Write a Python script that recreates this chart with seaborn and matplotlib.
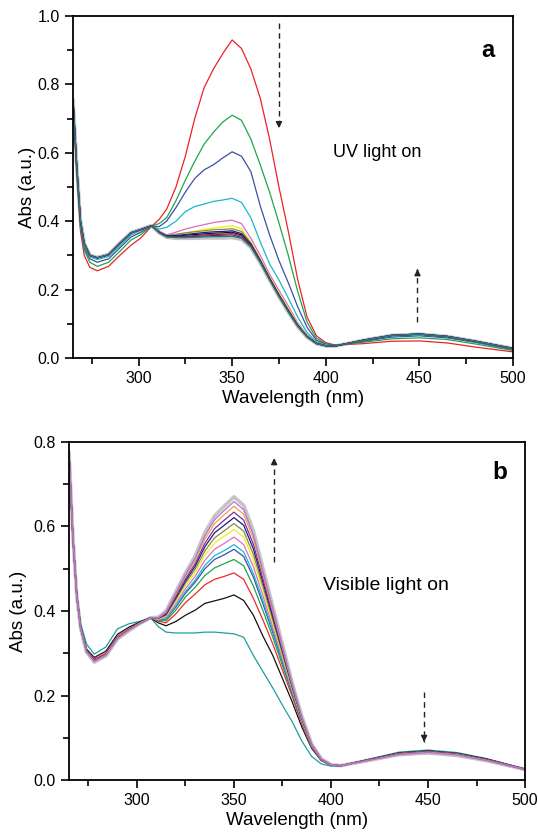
import pandas as pd
import matplotlib.pyplot as plt
from matplotlib.ticker import MultipleLocator
import seaborn as sns

wavelength = [265, 267, 269, 271, 274, 278, 284, 290, 296, 301, 307,
              311, 315, 320, 325, 330, 335, 340, 345, 350, 355, 360, 365, 370, 375, 380, 385, 390, 395, 400,
              405, 420, 435, 450, 465, 480, 500]

# ---- panel a: UV light on ----
a_red = [0.74, 0.54, 0.37, 0.30, 0.265, 0.255, 0.268, 0.30, 0.33, 0.35, 0.385,
         0.405, 0.435, 0.50, 0.59, 0.70, 0.79, 0.845, 0.89, 0.93, 0.905, 0.845, 0.76, 0.64, 0.50, 0.37, 0.23, 0.12, 0.065, 0.045,
         0.038, 0.042, 0.049, 0.05, 0.044, 0.032, 0.018]
a_green = [0.745, 0.548, 0.383, 0.315, 0.28, 0.268, 0.28, 0.312, 0.345, 0.36, 0.386,
           0.393, 0.41, 0.46, 0.52, 0.575, 0.625, 0.66, 0.69, 0.71, 0.695, 0.64, 0.565, 0.485, 0.395, 0.30, 0.195, 0.105, 0.058, 0.042,
           0.037, 0.046, 0.056, 0.059, 0.054, 0.041, 0.022]
a_blue = [0.75, 0.55, 0.388, 0.322, 0.29, 0.28, 0.29, 0.322, 0.354, 0.367, 0.386,
          0.384, 0.40, 0.44, 0.485, 0.525, 0.55, 0.565, 0.585, 0.603, 0.59, 0.545, 0.445, 0.36, 0.285, 0.22, 0.15, 0.09, 0.052, 0.04,
          0.037, 0.049, 0.061, 0.065, 0.059, 0.046, 0.025]
a_cyan = [0.75, 0.553, 0.392, 0.328, 0.296, 0.288, 0.297, 0.328, 0.36, 0.372, 0.386,
          0.377, 0.382, 0.40, 0.428, 0.443, 0.45, 0.458, 0.462, 0.467, 0.455, 0.41, 0.34, 0.275, 0.228, 0.175, 0.12, 0.075, 0.047, 0.038,
          0.036, 0.051, 0.064, 0.068, 0.062, 0.048, 0.027]
a_magenta = [0.752, 0.557, 0.398, 0.332, 0.298, 0.292, 0.30, 0.333, 0.364, 0.374, 0.387,
             0.372, 0.36, 0.368, 0.377, 0.384, 0.39, 0.396, 0.40, 0.403, 0.393, 0.35, 0.30, 0.245, 0.198, 0.152, 0.103, 0.068, 0.045, 0.037,
             0.035, 0.052, 0.066, 0.07, 0.063, 0.049, 0.028]
a_yellow = [0.753, 0.558, 0.399, 0.333, 0.299, 0.292, 0.301, 0.334, 0.365, 0.374, 0.387,
            0.37, 0.357, 0.36, 0.366, 0.371, 0.376, 0.38, 0.383, 0.387, 0.378, 0.34, 0.29, 0.238, 0.19, 0.145, 0.10, 0.066, 0.044, 0.037,
            0.035, 0.052, 0.066, 0.07, 0.063, 0.049, 0.028]
a_olive = [0.755, 0.56, 0.40, 0.335, 0.30, 0.293, 0.302, 0.335, 0.366, 0.375, 0.387,
           0.369, 0.358, 0.362, 0.366, 0.369, 0.372, 0.375, 0.376, 0.378, 0.37, 0.336, 0.287, 0.235, 0.186, 0.141, 0.097, 0.064, 0.044, 0.036,
           0.035, 0.052, 0.066, 0.07, 0.063, 0.049, 0.028]
a_navy = [0.755, 0.56, 0.40, 0.335, 0.30, 0.293, 0.302, 0.335, 0.366, 0.375, 0.387,
          0.368, 0.357, 0.358, 0.361, 0.364, 0.367, 0.369, 0.37, 0.372, 0.364, 0.333, 0.285, 0.233, 0.184, 0.139, 0.096, 0.063, 0.043, 0.036,
          0.035, 0.052, 0.066, 0.07, 0.063, 0.049, 0.028]
a_black = [0.755, 0.56, 0.40, 0.335, 0.30, 0.293, 0.302, 0.335, 0.366, 0.375, 0.387,
           0.368, 0.356, 0.356, 0.359, 0.361, 0.363, 0.365, 0.366, 0.368, 0.36, 0.331, 0.284, 0.232, 0.183, 0.138, 0.095, 0.063, 0.043, 0.036,
           0.035, 0.052, 0.066, 0.07, 0.063, 0.049, 0.028]
a_purple = [0.755, 0.56, 0.40, 0.335, 0.30, 0.293, 0.302, 0.335, 0.366, 0.375, 0.387,
            0.367, 0.355, 0.354, 0.356, 0.358, 0.36, 0.361, 0.362, 0.364, 0.357, 0.329, 0.283, 0.231, 0.182, 0.137, 0.094, 0.062, 0.043, 0.036,
            0.035, 0.052, 0.066, 0.07, 0.063, 0.049, 0.028]
a_wine = [0.755, 0.56, 0.40, 0.335, 0.30, 0.293, 0.302, 0.335, 0.366, 0.375, 0.387,
          0.367, 0.355, 0.353, 0.354, 0.355, 0.357, 0.358, 0.359, 0.36, 0.353, 0.327, 0.281, 0.23, 0.181, 0.136, 0.094, 0.062, 0.042, 0.036,
          0.035, 0.052, 0.066, 0.07, 0.063, 0.049, 0.028]
a_darkcyan = [0.755, 0.56, 0.40, 0.335, 0.30, 0.293, 0.302, 0.335, 0.366, 0.375, 0.387,
              0.366, 0.354, 0.352, 0.352, 0.353, 0.354, 0.355, 0.355, 0.356, 0.35, 0.325, 0.28, 0.229, 0.18, 0.135, 0.093, 0.062, 0.042, 0.036,
              0.035, 0.052, 0.066, 0.07, 0.063, 0.049, 0.028]
a_gray = [0.756, 0.561, 0.401, 0.336, 0.301, 0.294, 0.303, 0.336, 0.367, 0.376, 0.387,
          0.366, 0.353, 0.35, 0.35, 0.35, 0.351, 0.351, 0.351, 0.352, 0.347, 0.323, 0.278, 0.228, 0.179, 0.134, 0.092, 0.061, 0.042, 0.035,
          0.035, 0.052, 0.066, 0.07, 0.063, 0.049, 0.028]

# ---- panel b: visible light on ----
b_teal = [0.76, 0.57, 0.44, 0.37, 0.322, 0.298, 0.315, 0.358, 0.37, 0.375, 0.384,
          0.363, 0.35, 0.348, 0.348, 0.348, 0.35, 0.35, 0.348, 0.346, 0.338, 0.295, 0.256, 0.218, 0.177, 0.138, 0.092, 0.056, 0.038, 0.033,
          0.033, 0.05, 0.066, 0.071, 0.065, 0.051, 0.026]
b_black = [0.77, 0.572, 0.437, 0.363, 0.31, 0.29, 0.305, 0.345, 0.362, 0.373, 0.384,
           0.372, 0.365, 0.375, 0.39, 0.402, 0.418, 0.424, 0.43, 0.438, 0.425, 0.39, 0.34, 0.295, 0.24, 0.185, 0.125, 0.075, 0.046, 0.035,
           0.034, 0.049, 0.064, 0.069, 0.063, 0.05, 0.026]
b_red = [0.772, 0.574, 0.436, 0.361, 0.307, 0.286, 0.30, 0.34, 0.358, 0.371, 0.384,
         0.376, 0.372, 0.393, 0.42, 0.44, 0.462, 0.475, 0.482, 0.49, 0.475, 0.43, 0.378, 0.322, 0.26, 0.198, 0.132, 0.078, 0.047, 0.035,
         0.034, 0.049, 0.063, 0.068, 0.062, 0.049, 0.026]
b_green = [0.775, 0.575, 0.435, 0.36, 0.305, 0.283, 0.297, 0.337, 0.356, 0.37, 0.384,
           0.378, 0.377, 0.402, 0.433, 0.456, 0.484, 0.502, 0.512, 0.522, 0.507, 0.459, 0.40, 0.338, 0.271, 0.204, 0.135, 0.079, 0.048, 0.035,
           0.034, 0.048, 0.062, 0.067, 0.061, 0.048, 0.025]
b_blue = [0.775, 0.575, 0.435, 0.36, 0.305, 0.283, 0.297, 0.337, 0.356, 0.37, 0.384,
          0.379, 0.381, 0.409, 0.442, 0.468, 0.50, 0.522, 0.533, 0.546, 0.529, 0.48, 0.416, 0.349, 0.279, 0.208, 0.138, 0.08, 0.048, 0.035,
          0.034, 0.048, 0.062, 0.067, 0.061, 0.048, 0.025]
b_cyan = [0.775, 0.575, 0.435, 0.36, 0.305, 0.283, 0.297, 0.337, 0.356, 0.37, 0.384,
          0.379, 0.382, 0.412, 0.446, 0.473, 0.508, 0.531, 0.543, 0.557, 0.54, 0.489, 0.423, 0.355, 0.282, 0.21, 0.139, 0.081, 0.048, 0.035,
          0.034, 0.048, 0.062, 0.067, 0.061, 0.048, 0.025]
b_pink = [0.775, 0.575, 0.435, 0.36, 0.305, 0.283, 0.297, 0.337, 0.356, 0.37, 0.384,
          0.38, 0.385, 0.417, 0.453, 0.482, 0.52, 0.546, 0.56, 0.575, 0.557, 0.505, 0.435, 0.363, 0.288, 0.213, 0.14, 0.081, 0.048, 0.035,
          0.034, 0.048, 0.062, 0.067, 0.061, 0.048, 0.025]
b_yellow = [0.775, 0.575, 0.435, 0.36, 0.305, 0.283, 0.297, 0.337, 0.356, 0.37, 0.384,
            0.381, 0.388, 0.423, 0.46, 0.491, 0.532, 0.561, 0.577, 0.593, 0.575, 0.521, 0.448, 0.372, 0.294, 0.216, 0.142, 0.082, 0.049, 0.036,
            0.034, 0.048, 0.062, 0.067, 0.061, 0.048, 0.025]
b_olive = [0.775, 0.575, 0.435, 0.36, 0.305, 0.283, 0.297, 0.337, 0.356, 0.37, 0.384,
           0.382, 0.39, 0.427, 0.466, 0.499, 0.542, 0.573, 0.59, 0.607, 0.589, 0.534, 0.457, 0.379, 0.299, 0.219, 0.144, 0.083, 0.049, 0.036,
           0.034, 0.048, 0.062, 0.067, 0.061, 0.048, 0.025]
b_navy = [0.775, 0.575, 0.435, 0.36, 0.305, 0.283, 0.297, 0.337, 0.356, 0.37, 0.384,
          0.383, 0.392, 0.431, 0.471, 0.506, 0.552, 0.585, 0.603, 0.621, 0.603, 0.547, 0.467, 0.386, 0.304, 0.221, 0.145, 0.083, 0.049, 0.036,
          0.034, 0.048, 0.062, 0.067, 0.061, 0.048, 0.025]
b_purple = [0.775, 0.575, 0.435, 0.36, 0.305, 0.283, 0.297, 0.337, 0.356, 0.37, 0.384,
            0.383, 0.394, 0.435, 0.476, 0.512, 0.56, 0.595, 0.615, 0.634, 0.615, 0.558, 0.476, 0.392, 0.308, 0.224, 0.146, 0.084, 0.049, 0.036,
            0.034, 0.048, 0.062, 0.067, 0.061, 0.048, 0.025]
b_orange = [0.776, 0.576, 0.434, 0.359, 0.304, 0.281, 0.296, 0.336, 0.355, 0.37, 0.384,
            0.384, 0.397, 0.439, 0.482, 0.519, 0.57, 0.607, 0.628, 0.648, 0.629, 0.571, 0.485, 0.399, 0.313, 0.226, 0.148, 0.084, 0.05, 0.036,
            0.034, 0.047, 0.061, 0.066, 0.06, 0.047, 0.025]
b_violet = [0.776, 0.576, 0.434, 0.359, 0.304, 0.28, 0.295, 0.335, 0.355, 0.369, 0.384,
            0.384, 0.398, 0.442, 0.486, 0.525, 0.578, 0.616, 0.638, 0.659, 0.64, 0.58, 0.493, 0.405, 0.316, 0.228, 0.149, 0.085, 0.05, 0.036,
            0.034, 0.047, 0.06, 0.065, 0.059, 0.046, 0.025]
b_gray = [0.776, 0.576, 0.434, 0.358, 0.303, 0.279, 0.294, 0.334, 0.354, 0.369, 0.384,
          0.385, 0.40, 0.445, 0.49, 0.53, 0.585, 0.625, 0.648, 0.67, 0.65, 0.59, 0.50, 0.41, 0.32, 0.23, 0.15, 0.085, 0.05, 0.036,
          0.034, 0.047, 0.06, 0.064, 0.058, 0.046, 0.025]

curves_a = [("red", a_red, "#ec2227"), ("green", a_green, "#1ea64b"), ("blue", a_blue, "#3b4fa6"),
            ("cyan", a_cyan, "#1bb6d2"), ("magenta", a_magenta, "#e067c3"), ("yellow", a_yellow, "#eded1c"),
            ("olive", a_olive, "#8a8a2a"), ("black", a_black, "#111111"), ("navy", a_navy, "#1c1c86"),
            ("purple", a_purple, "#7b2b8e"), ("wine", a_wine, "#8a1c2a"), ("darkcyan", a_darkcyan, "#1a7f86")]
curves_b = [("teal", b_teal, "#1e9e9e"), ("black", b_black, "#111111"), ("red", b_red, "#ec2a2a"),
            ("green", b_green, "#1ea64b"), ("blue", b_blue, "#3b4fa6"), ("cyan", b_cyan, "#1bb6d8"),
            ("pink", b_pink, "#e26fc2"), ("yellow", b_yellow, "#eded1c"), ("olive", b_olive, "#8a8a3a"),
            ("navy", b_navy, "#1c1c86"), ("purple", b_purple, "#7b2b9e"), ("orange", b_orange, "#f0a23a"),
            ("violet", b_violet, "#b070e0")]


def long_form(curves):
    '''Stack the named spectra into one long table for seaborn.'''
    frames = []
    for name, values, _ in curves:
        frames.append(pd.DataFrame({"Wavelength": wavelength, "Abs": values, "curve": name}))
    return pd.concat(frames, ignore_index=True)


def draw_panel(ax, curves, halo, ymax, ystep, ypad):
    '''Draw a grey halo spectrum and then the coloured spectra on one axis.'''
    sns.lineplot(x=wavelength, y=halo, ax=ax, color="#c4c4c4", lw=2.6, zorder=1)
    df = long_form(curves)
    palette = {name: color for name, _, color in curves}
    sns.lineplot(data=df, x="Wavelength", y="Abs", hue="curve", palette=palette,
                 hue_order=[c[0] for c in curves], ax=ax, lw=0.9, legend=False,
                 estimator=None, sort=False, zorder=2)
    ax.set_xlim(265, 500)
    ax.set_ylim(0, ymax)
    ax.xaxis.set_major_locator(MultipleLocator(50))
    ax.xaxis.set_minor_locator(MultipleLocator(25))
    ax.yaxis.set_major_locator(MultipleLocator(ystep))
    ax.yaxis.set_minor_locator(MultipleLocator(ystep / 2))
    ax.tick_params(which="major", direction="out", length=6, width=1.2, labelsize=11.5,
                   top=False, right=False, color="black", labelcolor="black")
    ax.tick_params(which="minor", direction="out", length=4, width=1.2, top=False, right=False,
                   color="black")
    for sp in ax.spines.values():
        sp.set_linewidth(1.3)
        sp.set_color("black")
        sp.set_visible(True)
    ax.set_xlabel("Wavelength (nm)", fontsize=13.5, labelpad=3, color="black")
    ax.set_ylabel("Abs (a.u.)", fontsize=13.5, labelpad=ypad, color="black")


def dashed_arrow(ax, x, y0, y1):
    '''Dashed vertical arrow from y0 to y1 with a solid head.'''
    ax.plot([x, x], [y0, y1], color="#222222", lw=1.0, ls=(0, (4, 3)))
    d = (y1 - y0) * 0.04
    ax.annotate("", xy=(x, y1), xytext=(x, y1 - d),
                arrowprops=dict(arrowstyle="-|>", color="#222222", lw=1.0,
                                mutation_scale=9, shrinkA=0, shrinkB=0))


def main():
    sns.set_style("ticks")
    plt.rcParams["font.family"] = ["Liberation Sans", "DejaVu Sans"]
    plt.rcParams["text.color"] = "black"
    fig = plt.figure(figsize=(5.38, 8.33), dpi=100)
    ax_a = fig.add_axes([0.1357, 0.5702, 0.8178, 0.4106])
    ax_b = fig.add_axes([0.1283, 0.0636, 0.8476, 0.4058])

    draw_panel(ax_a, curves_a, a_gray, 1.0, 0.2, 1)
    dashed_arrow(ax_a, 375, 0.98, 0.672)
    dashed_arrow(ax_a, 449, 0.105, 0.26)
    ax_a.text(404, 0.60, "UV light on", fontsize=13, va="center", ha="left")
    ax_a.text(486.5, 0.90, "a", fontsize=17, fontweight="bold", va="center", ha="center")

    draw_panel(ax_b, curves_b, b_gray, 0.8, 0.2, 5)
    dashed_arrow(ax_b, 370.7, 0.516, 0.762)
    dashed_arrow(ax_b, 448, 0.208, 0.09)
    ax_b.text(396, 0.46, "Visible light on", fontsize=14, va="center", ha="left")
    ax_b.text(487, 0.727, "b", fontsize=17.5, fontweight="bold", va="center", ha="center")

    fig.savefig("out.png", dpi=100)


if __name__ == "__main__":
    main()
